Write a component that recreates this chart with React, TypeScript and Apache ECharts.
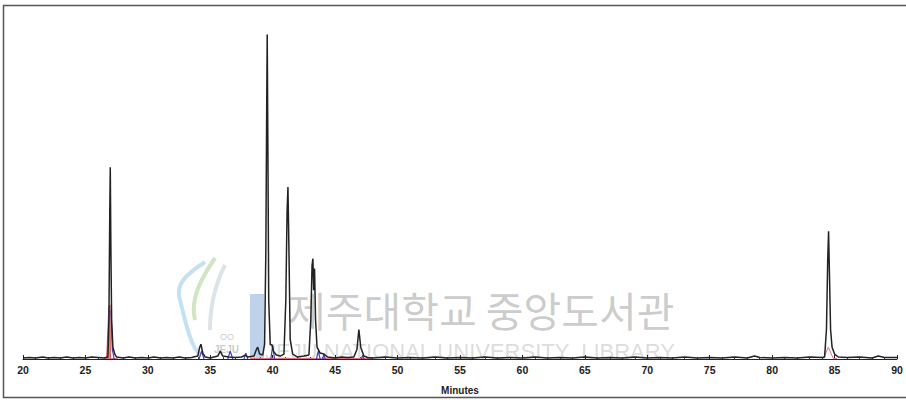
import React, { useEffect, useRef } from "react";
import * as echarts from "echarts";

const xTicks = [20, 25, 30, 35, 40, 45, 50, 55, 60, 65, 70, 75, 80, 85, 90];

const blackTrace: [number, number][] = [
  [20, 1], [20.5, 1.5], [21, 1], [21.6, 2], [22, 1], [22.5, 1.5], [23, 1], [23.5, 2], [24, 1], [24.5, 1.5],
  [25, 1], [25.5, 2], [26, 1.5], [26.5, 1], [26.8, 2], [26.88, 40], [26.95, 150], [26.99, 195], [27.04, 110],
  [27.1, 40], [27.2, 12], [27.35, 5], [27.5, 2], [28, 1], [28.5, 2], [29, 1], [29.5, 1.5], [30, 1], [30.5, 2],
  [31, 1], [31.5, 1.5], [32, 1], [32.5, 2], [33, 1], [33.5, 1.5], [34, 3], [34.15, 12], [34.25, 15], [34.4, 6],
  [34.6, 2], [35, 1], [35.6, 3], [35.8, 8], [36, 3], [36.5, 2], [37, 1.5], [37.5, 2], [37.8, 4], [38, 2],
  [38.5, 3], [38.7, 10], [38.8, 12], [38.95, 5], [39.2, 4], [39.35, 15], [39.45, 110], [39.52, 260],
  [39.56, 330], [39.62, 200], [39.68, 60], [39.8, 15], [39.95, 14], [40.05, 8], [40.3, 4], [40.6, 3],
  [40.9, 5], [41.05, 60], [41.15, 150], [41.22, 175], [41.3, 110], [41.4, 20], [41.6, 5], [42, 2],
  [42.5, 3], [42.9, 4], [43.05, 40], [43.15, 95], [43.22, 102], [43.28, 70], [43.35, 92], [43.43, 40],
  [43.55, 12], [43.8, 6], [44.1, 5], [44.4, 2], [45, 1], [45.5, 2], [46, 1.5], [46.5, 2], [46.75, 10],
  [46.9, 30], [47.05, 12], [47.3, 3], [47.6, 1.5], [48, 1], [49, 2], [50, 1], [51, 1.5], [52, 1], [53, 2],
  [54, 1], [55, 1.5], [56, 1], [57, 2], [58, 1], [59, 1.5], [60, 1], [61, 2], [62, 1], [63, 1.5], [64, 1],
  [65, 2], [66, 1], [67, 1.5], [68, 1], [69, 2], [70, 1], [71, 1.5], [72, 1], [73, 2], [74, 1], [75, 1.5],
  [76, 1], [77, 2], [78, 1], [78.6, 3], [79, 1.5], [80, 1], [81, 1.5], [82, 1], [83, 2], [84, 1.5],
  [84.2, 2], [84.35, 30], [84.45, 100], [84.52, 130], [84.6, 80], [84.68, 30], [84.8, 12], [85, 5],
  [85.3, 2], [86, 1.5], [87, 2], [88, 1], [88.5, 3], [89, 1.5], [90, 1.5],
];

const redFill: [number, number][] = [
  [26.7, 0], [26.8, 30], [26.87, 52], [26.97, 55], [27.0, 0],
];

const redBase: (number | string)[][] = [
  [26.5, 0.5], [27.6, 0.5], ["-", "-"], [38.2, 0.5], [48, 0.5], ["-", "-"],
  [84.1, 0.5], [84.5, 12], [84.9, 0.5], [85.2, 0.5],
];

const blueTrace: (number | string)[][] = [
  [27.05, 50], [27.15, 10], [27.3, 0], ["-", "-"],
  [34.1, 0], [34.3, 8], [34.5, 0], ["-", "-"],
  [36.4, 0], [36.6, 8], [36.8, 0], ["-", "-"],
  [37.7, 0], [37.85, 6], [38.0, 0], ["-", "-"],
  [39.85, 0], [40.0, 14], [40.15, 0], ["-", "-"],
  [43.5, 0], [43.65, 8], [43.8, 0], ["-", "-"],
  [44.0, 0], [44.1, 5], [44.2, 0], ["-", "-"],
  [47.1, 0], [47.2, 4], [47.3, 0],
];

export default function App() {
  const ref = useRef<HTMLDivElement>(null);
  useEffect(() => {
    if (!ref.current) return;
    const chart = echarts.init(ref.current, null, { renderer: "svg" });
    chart.setOption({
      animation: false,
      backgroundColor: "#ffffff",
      grid: { left: 23, right: 9, top: 5, bottom: 35 },
      xAxis: {
        type: "value",
        min: xTicks[0],
        max: xTicks[xTicks.length - 1],
        interval: 5,
        name: "Minutes",
        nameLocation: "middle",
        nameGap: 26,
        nameTextStyle: { fontFamily: "Liberation Sans", fontWeight: "bold", fontSize: 10, color: "#222" },
        axisLine: { lineStyle: { color: "#222", width: 1 } },
        axisTick: { show: true, inside: true, length: 4, lineStyle: { color: "#222" } },
        minorTick: { show: true, splitNumber: 5, length: 2, lineStyle: { color: "#444" } },
        splitLine: { show: false },
        axisLabel: {
          margin: 5,
          fontFamily: "Liberation Sans",
          fontWeight: "bold",
          fontSize: 10.5,
          color: "#222",
        },
      },
      yAxis: { type: "value", min: 0, max: 360, show: false },
      graphic: [
        { type: "rect", shape: { x: 3.5, y: 5.5, width: 910, height: 392 }, style: { fill: "none", stroke: "#555", lineWidth: 1.5 }, z: 100 },
        { type: "bezierCurve", shape: { x1: 205, y1: 262, x2: 180, y2: 300, cpx1: 185, cpy1: 275, cpx2: 175, cpy2: 285 }, style: { stroke: "rgba(120,190,230,0.45)", lineWidth: 4, fill: "none" }, z: -1 },
        { type: "bezierCurve", shape: { x1: 180, y1: 300, x2: 200, y2: 355, cpx1: 185, cpy1: 320, cpx2: 190, cpy2: 345 }, style: { stroke: "rgba(120,190,230,0.45)", lineWidth: 4, fill: "none" }, z: -1 },
        { type: "bezierCurve", shape: { x1: 215, y1: 258, x2: 195, y2: 320, cpx1: 200, cpy1: 280, cpx2: 190, cpy2: 300 }, style: { stroke: "rgba(150,200,120,0.45)", lineWidth: 4, fill: "none" }, z: -1 },
        { type: "bezierCurve", shape: { x1: 225, y1: 265, x2: 210, y2: 330, cpx1: 215, cpy1: 285, cpx2: 210, cpy2: 305 }, style: { stroke: "rgba(190,200,210,0.5)", lineWidth: 4, fill: "none" }, z: -1 },
        { type: "rect", shape: { x: 250, y: 294, width: 14, height: 66 }, style: { fill: "rgba(110,155,210,0.45)" }, z: -1 },
        { type: "text", x: 220, y: 332, style: { text: "OO", font: "9px Liberation Sans", fill: "rgba(150,150,150,0.5)" }, z: -1 },
        { type: "text", x: 214, y: 344, style: { text: "JEJU", font: "bold 10px Liberation Sans", fill: "rgba(150,150,150,0.5)" }, z: -1 },
        { type: "text", x: 288, y: 288, style: { text: "제주대학교 중앙도서관", font: "41px 'Noto Sans CJK KR'", fill: "rgba(140,140,140,0.45)" }, z: -1 },
        { type: "text", x: 265, y: 340, style: { text: "JEJU NATIONAL UNIVERSITY  LIBRARY", font: "22px 'Liberation Sans'", fill: "rgba(165,165,165,0.4)" }, z: -1 },
      ],
      series: [
        {
          type: "line",
          data: redFill,
          showSymbol: false,
          lineStyle: { color: "#d05050", width: 1 },
          areaStyle: { color: "#d86060" },
          z: 2,
        },
        {
          type: "line",
          data: redBase,
          showSymbol: false,
          connectNulls: false,
          lineStyle: { color: "#e07080", width: 1 },
          z: 2,
        },
        {
          type: "line",
          data: blueTrace,
          showSymbol: false,
          connectNulls: false,
          lineStyle: { color: "#4040c0", width: 1.2 },
          z: 3,
        },
        {
          type: "line",
          data: blackTrace,
          showSymbol: false,
          lineStyle: { color: "#222", width: 1.5 },
          z: 4,
        },
      ],
    });
    return () => chart.dispose();
  }, []);
  return <div ref={ref} style={{ position: "absolute", left: 0, top: 0, width: 906, height: 400 }} />;
}
